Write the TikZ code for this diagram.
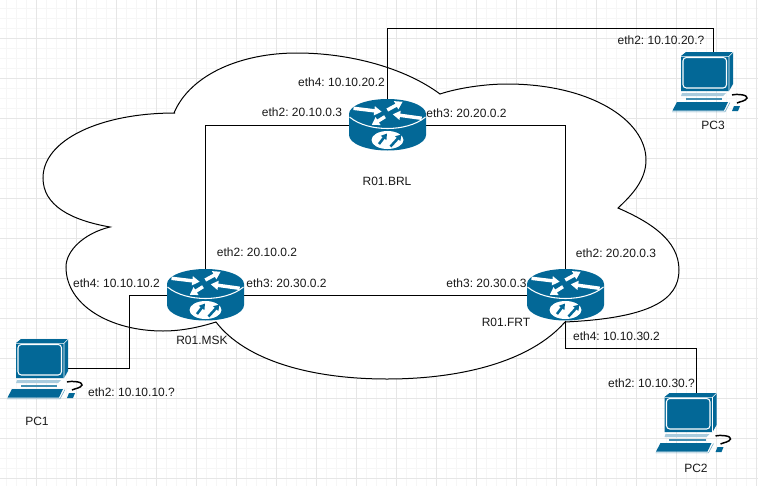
\documentclass[tikz,border=0pt]{standalone}
\usepackage{fontspec}
\setmainfont{Liberation Sans}
\usetikzlibrary{arrows.meta}
\definecolor{ciscoblue}{HTML}{036897}
\definecolor{gridminor}{HTML}{F6F6F6}
\definecolor{gridmajor}{HTML}{E6E6E6}
\definecolor{lightband}{HTML}{A9CBDD}
\tikzset{
  x=0.75pt,y=-0.75pt,
  anchorbox/.style={inner sep=0pt,outer sep=0pt,draw=none,fill=none},
  routerbox/.style={anchorbox,minimum width=57.75pt,minimum height=39pt},
  pcbox/.style={anchorbox,minimum width=30pt,minimum height=44.25pt},
  lbl/.style={inner sep=0pt,font=\fontsize{9}{11}\selectfont\frenchspacing,text=black!90},
  lnk/.style={draw=black,line width=0.75pt},
  warrow/.style={white,line width=2.6pt,-{Triangle[width=6.6pt,length=5.6pt]}},
  barrow/.style={ciscoblue,line width=1.9pt,-{Triangle[width=5pt,length=4.2pt]}},
  pics/routericon/.style={code={
    \begin{scope}[shift={(-38.5,-26)}]
      \fill[ciscoblue] (0,15) arc[start angle=180,end angle=360,x radius=38.5,y radius=15]
        -- (77,36) arc[start angle=0,end angle=180,x radius=38.5,y radius=15.5] -- cycle;
      \draw[white,line width=0.8pt] (0.5,18) .. controls (10,26) and (25,29.5) .. (38.5,29.5)
         .. controls (52,29.5) and (67,26) .. (76.5,18);
      \draw[warrow] (4.5,9.3) -- (32.7,12.7);
      \draw[warrow] (38.3,11) -- (53.7,2.7);
      \draw[warrow] (72.7,19.3) -- (43.7,15.3);
      \draw[warrow] (36,17.7) -- (22.7,26);
      \fill[white] (38.5,41) ellipse[x radius=16,y radius=9];
      \draw[barrow] (30,45) -- (38,34.5);
      \draw[barrow] (41.5,47.5) -- (52.5,35.5);
    \end{scope}}},
  pics/pcicon/.style={code={
    \begin{scope}[shift={(-41,-29.5)}]
      \fill[ciscoblue] (9,4) -- (14,0) -- (61,0) -- (61,32) -- (57,39) -- (9,39) -- cycle;
      \draw[white,line width=0.45pt] (9,4.3) -- (57,4.3) -- (61,0.3) (57,4.3) -- (57,39);
      \draw[white,line width=0.8pt,rounded corners=2.5pt] (11,5.5) rectangle (54.5,36);
      \fill[lightband] (10,41) -- (54,41) -- (51,44) -- (9,44) -- cycle;
      \fill[ciscoblue!75] (13.5,45.5) -- (50,45.5) -- (50,47.5) -- (13.5,47.5) -- cycle;
      \fill[ciscoblue] (0.5,58.5) -- (5,50) -- (56,50) -- (52,58.5) -- cycle;
      \draw[ciscoblue!60,line width=0.4pt] (0,59.8) -- (53,59.8) -- (58,50.5);
      \fill[ciscoblue] (60,59) -- (62,54) -- (68,54) -- (66,59) -- cycle;
      \draw[black,line width=1.1pt] (60,43) .. controls (66,41.5) and (76,43) .. (75,46)
        .. controls (74,49) and (68,49.5) .. (65,51);
    \end{scope}}}
}
\begin{document}
\begin{tikzpicture}
\useasboundingbox (0,0) rectangle (758,486);
\fill[white] (0,0) rectangle (758,486);
% grid
\draw[gridminor,line width=0.75pt] foreach \k in {0,...,75}{ (6.5+10*\k,0) -- (6.5+10*\k,486)};
\draw[gridminor,line width=0.75pt] foreach \k in {0,...,48}{ (0,8.5+10*\k) -- (758,8.5+10*\k)};
\draw[gridmajor,line width=0.75pt] foreach \k in {0,...,18}{ (36.5+40*\k,0) -- (36.5+40*\k,486)};
\draw[gridmajor,line width=0.75pt] foreach \k in {0,...,11}{ (0,38.5+40*\k) -- (758,38.5+40*\k)};
% cloud
\draw[black,line width=0.75pt,fill=white] (174,113)
  .. controls (190,75) and (240,53) .. (297,53)
  .. controls (350,53) and (405,68) .. (440,94)
  .. controls (458,88) and (485,84) .. (507,84)
  .. controls (590,84) and (646,120) .. (646,160)
  .. controls (646,180) and (632,195) .. (618,208)
  .. controls (650,222) and (679,240) .. (679,270)
  .. controls (679,300) and (650,318) .. (565,322)
  .. controls (530,362) and (460,379) .. (387,379)
  .. controls (310,379) and (245,360) .. (216,322)
  .. controls (200,327) and (182,331) .. (163,331)
  .. controls (110,331) and (66,305) .. (66,267)
  .. controls (66,250) and (85,233) .. (110,227)
  .. controls (70,220) and (43,205) .. (43,178)
  .. controls (43,140) and (100,113) .. (175,113) -- cycle;
% device anchors
\node[routerbox] (brl) at (387.5,125) {};
\node[routerbox] (msk) at (205.5,295) {};
\node[routerbox] (frt) at (565.5,295) {};
\node[pcbox] (pc1) at (48,368.5) {};
\node[pcbox] (pc2) at (696.5,422.5) {};
\node[pcbox] (pc3) at (713,81.5) {};
\coordinate (w3) at (713,28.5);
\coordinate (w1) at (129,368.5);
\coordinate (w2) at (696.5,348.5);
% connectors
\draw[lnk] (brl.west) -| (msk.north);
\draw[lnk] (brl.east) -| (frt.north);
\draw[lnk] (msk.east) -- (frt.west);
\draw[lnk] (brl.north) |- (w3) -- (pc3.north);
\draw[lnk] (msk.west) -| (w1) -- (pc1.east);
\draw[lnk] (frt.south) |- (w2) -- (pc2.north);
% icons
\pic at (brl.center) {routericon};
\pic at (msk.center) {routericon};
\pic at (frt.center) {routericon};
\pic at (pc1.center) {pcicon};
\pic at (pc2.center) {pcicon};
\pic at (pc3.center) {pcicon};
% labels
\node[lbl] (l1) at (341.5,82) {eth4: 10.10.20.2};
\node[lbl] (l2) at (302,112) {eth2: 20.10.0.3};
\node[lbl] (l3) at (466.5,113) {eth3: 20.20.0.2};
\node[lbl] (l4) at (387,181) {R01.BRL};
\node[lbl] (l5) at (257,252) {eth2: 20.10.0.2};
\node[lbl] (l6) at (116.5,283) {eth4: 10.10.10.2};
\node[lbl] (l7) at (286.5,283) {eth3: 20.30.0.2};
\node[lbl] (l8) at (486.5,283) {eth3: 20.30.0.3};
\node[lbl] (l9) at (616,253) {eth2: 20.20.0.3};
\node[lbl] (l10) at (202,340) {R01.MSK};
\node[lbl] (l11) at (506,322) {R01.FRT};
\node[lbl] (l12) at (616.5,336) {eth4: 10.10.30.2};
\node[lbl] (l13) at (131.5,392) {eth2: 10.10.10.?};
\node[lbl] (l14) at (37,421) {PC1};
\node[lbl] (l15) at (661,40) {eth2: 10.10.20.?};
\node[lbl] (l16) at (713,125) {PC3};
\node[lbl] (l17) at (651.5,383) {eth2: 10.10.30.?};
\node[lbl] (l18) at (696,468) {PC2};
\end{tikzpicture}
\end{document}
